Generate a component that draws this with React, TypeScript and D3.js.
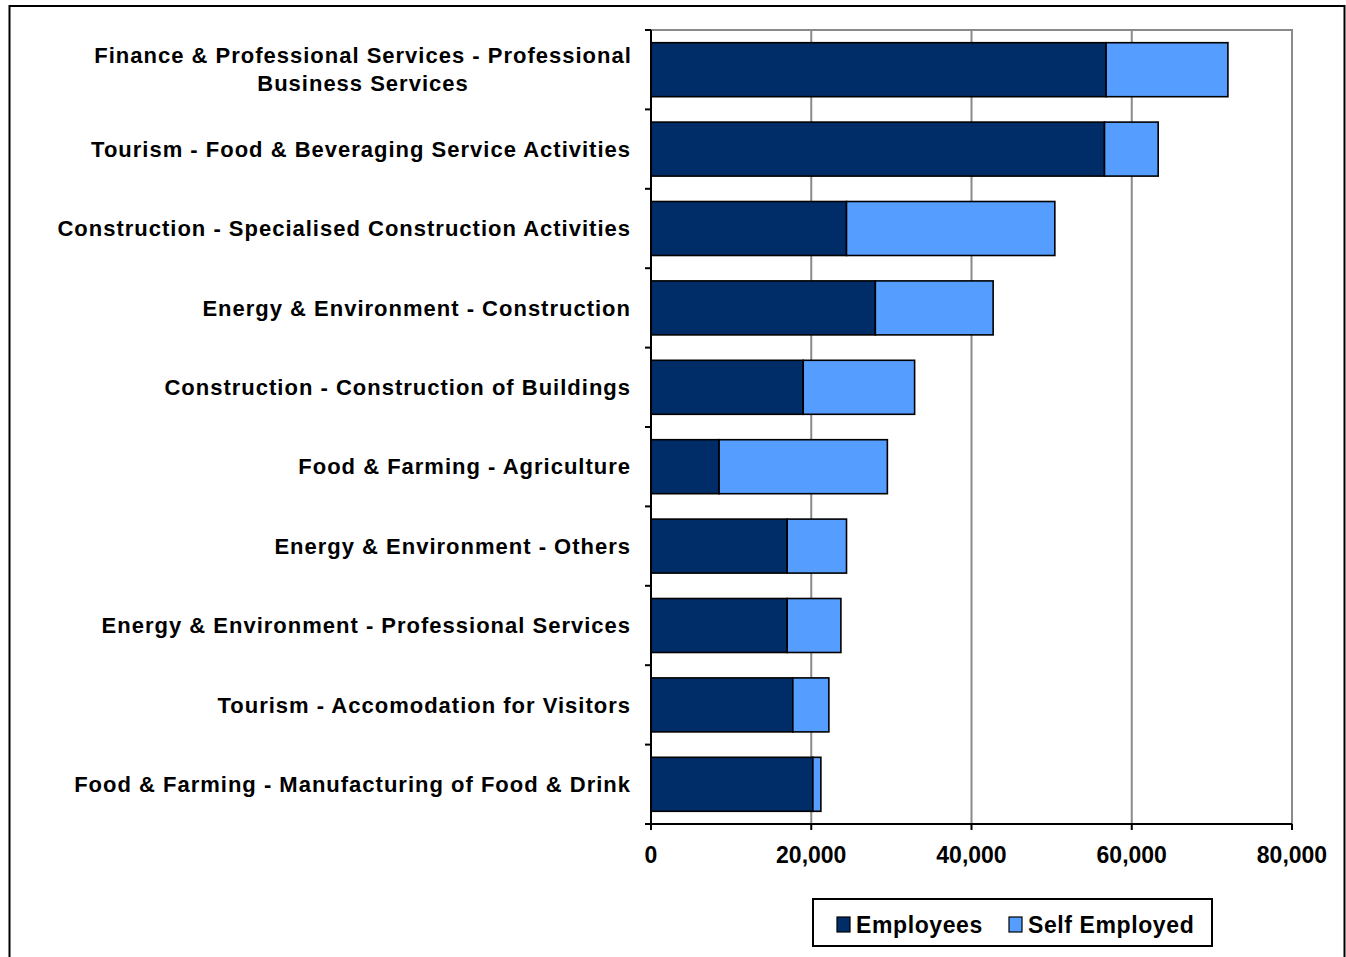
import React, { useEffect, useRef } from 'react';
import * as d3 from 'd3';

const categories = [
  ['Finance & Professional Services - Professional', 'Business Services'],
  ['Tourism - Food & Beveraging Service Activities'],
  ['Construction - Specialised Construction Activities'],
  ['Energy & Environment - Construction'],
  ['Construction - Construction of Buildings'],
  ['Food & Farming - Agriculture'],
  ['Energy & Environment - Others'],
  ['Energy & Environment - Professional Services'],
  ['Tourism - Accomodation for Visitors'],
  ['Food & Farming - Manufacturing of Food & Drink'],
];
const employees = [56800, 56600, 24400, 28000, 19000, 8500, 17000, 17000, 17700, 20200];
const selfEmployed = [15200, 6700, 26000, 14700, 13900, 21000, 7400, 6700, 4500, 1000];
const xTicks = [0, 20000, 40000, 60000, 80000];
const seriesNames = ['Employees', 'Self Employed'];
const colors = ['#002D68', '#559DFF'];

const W = 1346;
const H = 957;
const FONT = '"Liberation Sans", Arial, sans-serif';

const App: React.FC = () => {
  const svgRef = useRef<SVGSVGElement>(null);

  useEffect(() => {
    if (!svgRef.current) return;
    const svg = d3.select(svgRef.current);
    svg.selectAll('*').remove();

    const left = 651, right = 1292, top = 30, bottom = 824;

    // outer chart border
    svg.append('rect')
      .attr('x', 9.5).attr('y', 6).attr('width', 1335).attr('height', 962)
      .attr('fill', '#fff').attr('stroke', '#000').attr('stroke-width', 2);

    const x = d3.scaleLinear().domain([0, 80000]).range([left, right]);
    const y = d3.scaleBand<number>()
      .domain(d3.range(categories.length))
      .range([top, bottom])
      .paddingInner(0.32)
      .paddingOuter(0.16);

    // plot area border (top/right) + gridlines
    svg.append('path')
      .attr('d', `M${left},${top}H${right}V${bottom}`)
      .attr('fill', 'none').attr('stroke', '#8a8a8a').attr('stroke-width', 2);
    svg.append('g').selectAll('line')
      .data(xTicks.slice(1, -1))
      .enter().append('line')
      .attr('x1', d => x(d)).attr('x2', d => x(d))
      .attr('y1', top).attr('y2', bottom)
      .attr('stroke', '#8a8a8a').attr('stroke-width', 2);

    // stacked bars
    const stackData = categories.map((_, i) => ({ i, e: employees[i], s: selfEmployed[i] }));
    const stack = d3.stack<any>().keys(['e', 's'])(stackData);

    stack.forEach((layer, li) => {
      svg.append('g').selectAll('rect')
        .data(layer)
        .enter().append('rect')
        .attr('x', d => x(d[0]))
        .attr('y', d => y(d.data.i)!)
        .attr('width', d => x(d[1]) - x(d[0]))
        .attr('height', y.bandwidth())
        .attr('fill', colors[li])
        .attr('stroke', '#000')
        .attr('stroke-width', 1.6);
    });

    // y axis
    const yAxis = svg.append('g');
    yAxis.append('line')
      .attr('x1', left).attr('x2', left).attr('y1', top).attr('y2', bottom + 6)
      .attr('stroke', '#000').attr('stroke-width', 2);
    yAxis.selectAll('line.tick')
      .data(d3.range(categories.length + 1))
      .enter().append('line')
      .attr('class', 'tick')
      .attr('x1', left - 6).attr('x2', left)
      .attr('y1', d => top + d * (bottom - top) / categories.length)
      .attr('y2', d => top + d * (bottom - top) / categories.length)
      .attr('stroke', '#000').attr('stroke-width', 2);

    const labels = yAxis.selectAll('text.cat')
      .data(categories)
      .enter().append('text')
      .attr('class', 'cat')
      .attr('font-family', FONT)
      .attr('font-weight', 'bold')
      .attr('font-size', 22)
      .attr('letter-spacing', 1)
      .attr('fill', '#000');
    labels.each(function (lines, i) {
      const t = d3.select(this);
      const cy = y(i)! + y.bandwidth() / 2;
      const lh = 28;
      if (lines.length === 1) {
        t.attr('text-anchor', 'end').attr('x', 631).attr('y', cy).attr('dy', '0.35em').text(lines[0]);
      } else {
        t.attr('text-anchor', 'middle');
        lines.forEach((ln, k) => {
          t.append('tspan')
            .attr('x', 363)
            .attr('y', cy + (k - (lines.length - 1) / 2) * lh)
            .attr('dy', '0.35em')
            .text(ln);
        });
      }
    });

    // x axis
    const xAxis = svg.append('g');
    xAxis.append('line')
      .attr('x1', left - 6).attr('x2', right).attr('y1', bottom).attr('y2', bottom)
      .attr('stroke', '#000').attr('stroke-width', 2);
    xAxis.selectAll('line.tick')
      .data(xTicks)
      .enter().append('line')
      .attr('x1', d => x(d)).attr('x2', d => x(d))
      .attr('y1', bottom).attr('y2', bottom + 6)
      .attr('stroke', '#000').attr('stroke-width', 2);
    xAxis.selectAll('text')
      .data(xTicks)
      .enter().append('text')
      .attr('x', d => x(d))
      .attr('y', 863)
      .attr('text-anchor', 'middle')
      .attr('font-family', FONT)
      .attr('font-weight', 'bold')
      .attr('font-size', 23)
      .text(d => d3.format(',')(d));

    // legend
    const lg = svg.append('g');
    lg.append('rect')
      .attr('x', 813).attr('y', 899).attr('width', 399).attr('height', 47)
      .attr('fill', '#fff').attr('stroke', '#000').attr('stroke-width', 2);
    const legendX = [837, 1009];
    seriesNames.forEach((name, i) => {
      lg.append('rect')
        .attr('x', legendX[i]).attr('y', 917).attr('width', 13).attr('height', 15)
        .attr('fill', colors[i]).attr('stroke', '#000').attr('stroke-width', 1.2);
      lg.append('text')
        .attr('x', legendX[i] + 19).attr('y', 933)
        .attr('font-family', FONT).attr('font-weight', 'bold').attr('font-size', 23)
        .attr('letter-spacing', 0.6)
        .text(name);
    });
  }, []);

  return (
    <svg
      ref={svgRef}
      width={W}
      height={H}
      style={{ position: 'absolute', left: 0, top: 0, background: '#fff' }}
    />
  );
};

export default App;
